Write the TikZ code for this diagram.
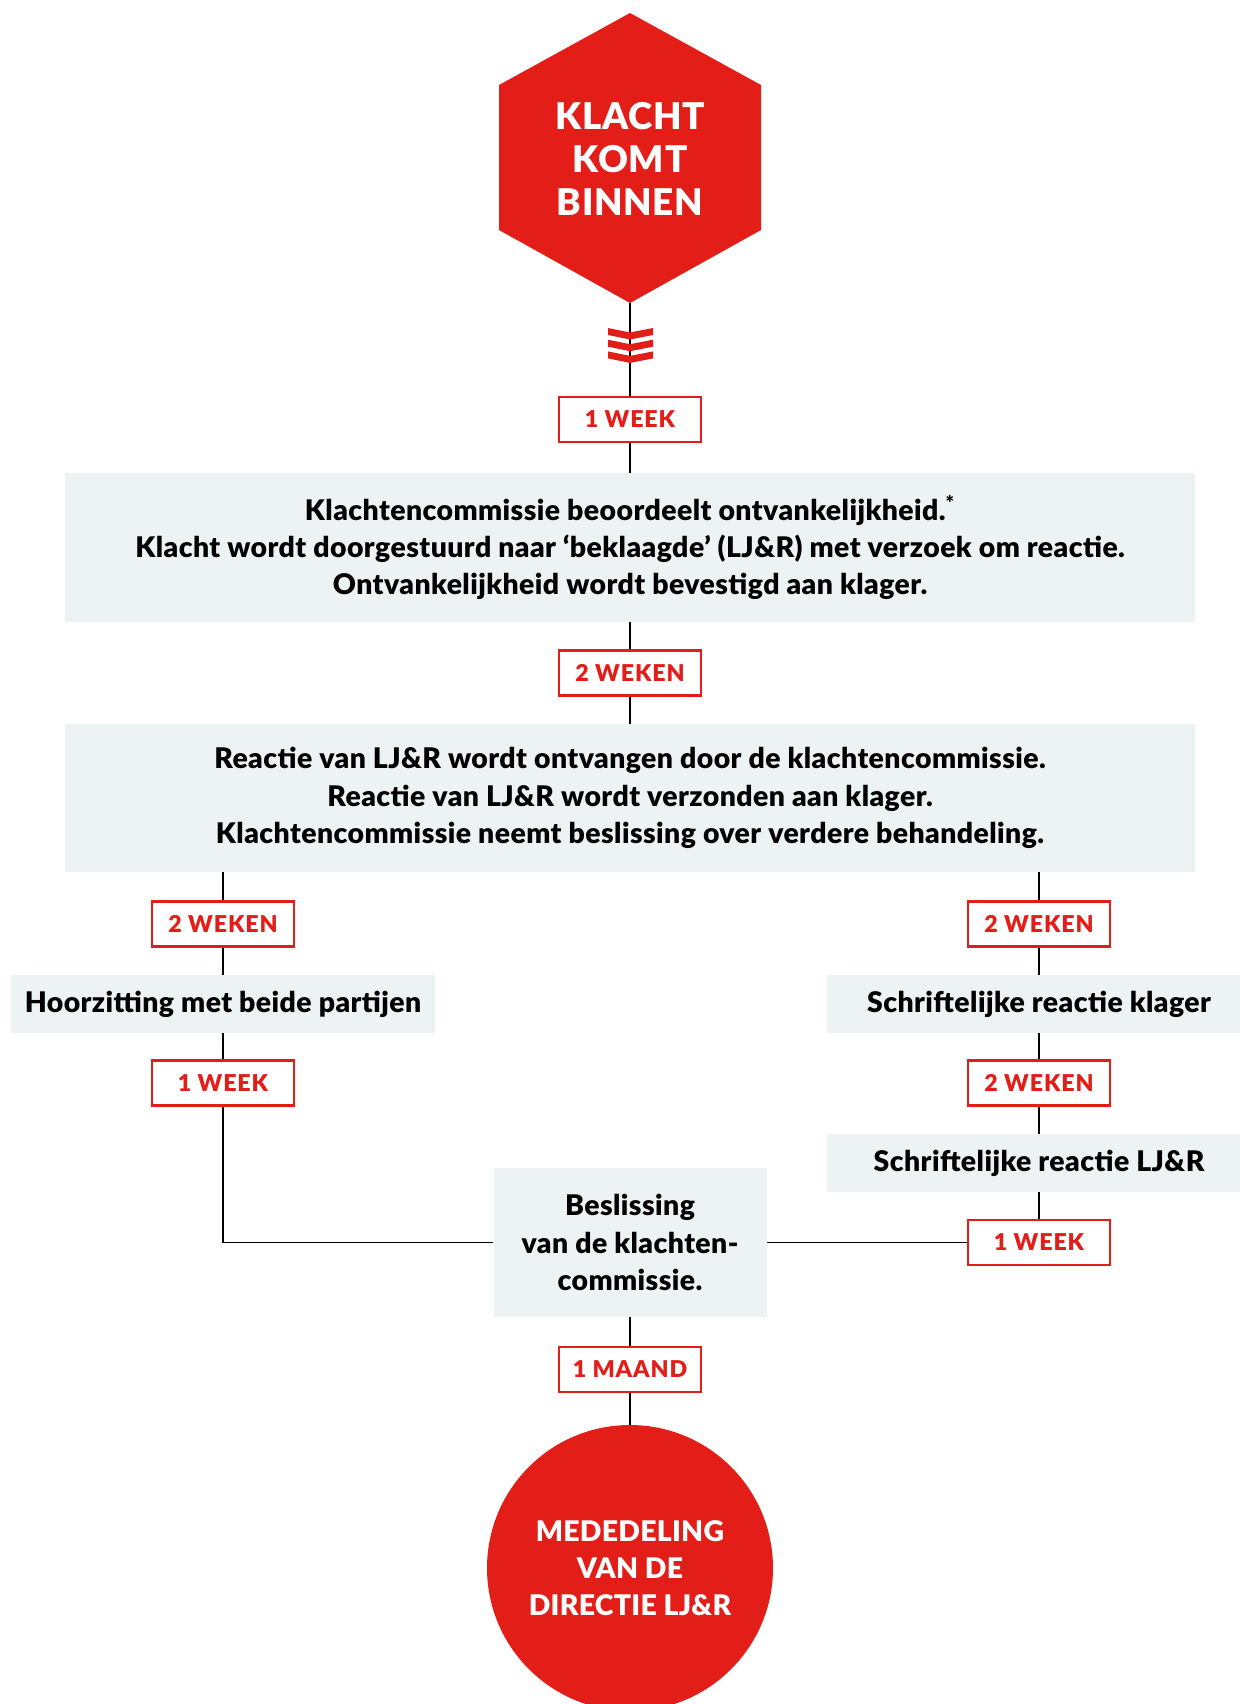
\documentclass[tikz,border=0pt]{standalone}
\usepackage{fontspec}
\setmainfont{Lato}[BoldFont={Lato Black}]
\definecolor{rood}{RGB}{227,30,24}
\definecolor{grijs}{RGB}{236,243,242}
\tikzset{
  termijn/.style={draw=rood,line width=1.3pt,fill=white,text=rood,minimum width=71pt,minimum height=22.5pt,inner sep=0pt,
    font=\bfseries\fontsize{11.6pt}{12pt}\selectfont\addfontfeatures{LetterSpace=4}},
  vak/.style={fill=grijs,align=center,inner sep=0pt,font=\bfseries\fontsize{14.2pt}{18.6pt}\selectfont\addfontfeatures{LetterSpace=1.5}},
  lijn/.style={line width=0.65pt}
}

\begin{document}
\begin{tikzpicture}[x=0.5pt,y=-0.5pt]
\useasboundingbox (0,0) rectangle (1240,1704);
\clip (0,0) rectangle (1240,1704);
\fill[rood] (630,13) -- (761,85) -- (761,230) -- (630,303) -- (499,230) -- (499,85) -- cycle;
\coordinate (hexonder) at (630,303);
\node[text=white,align=center,font=\bfseries\fontsize{18.4pt}{21.5pt}\selectfont\addfontfeatures{LetterSpace=2}] (klacht) at (630,159) {KLACHT\\KOMT\\BINNEN};
\node[termijn] (w1) at (630,419.5) {1 WEEK};
\node[vak,minimum width=565pt,minimum height=74.5pt] (stap1) at (630,547.5)
  {Klachtencommissie beoordeelt ontvankelijkheid.\textsuperscript{*}\\Klacht wordt doorgestuurd naar ‘beklaagde’ (LJ\&R) met verzoek om reactie.\\Ontvankelijkheid wordt bevestigd aan klager.};
\node[termijn] (w2) at (630,673) {2 WEKEN};
\node[vak,minimum width=565pt,minimum height=74pt] (stap2) at (630,798)
  {Reactie van LJ\&R wordt ontvangen door de klachtencommissie.\\Reactie van LJ\&R wordt verzonden aan klager.\\Klachtencommissie neemt beslissing over verdere behandeling.};
\node[termijn] (lw2) at (223,924) {2 WEKEN};
\node[termijn] (rw2) at (1039,924) {2 WEKEN};
\node[vak,minimum width=212pt,minimum height=29pt] (hoor) at (223,1004) {Hoorzitting met beide partijen};
\node[vak,minimum width=212pt,minimum height=29pt] (klager) at (1039,1004) {Schriftelijke reactie klager};
\node[termijn] (lw1) at (223,1083) {1 WEEK};
\node[termijn] (rw3) at (1039,1083) {2 WEKEN};
\node[vak,minimum width=212pt,minimum height=29pt] (ljr) at (1039,1163) {Schriftelijke reactie LJ\&R};
\node[termijn] (rw1) at (1039,1242.5) {1 WEEK};
\node[vak,minimum width=136.5pt,minimum height=74.5pt] (besl) at (630,1242.5) {Beslissing\\van de klachten-\\commissie.};
\node[termijn] (maand) at (630,1369.5) {1 MAAND};
\node[circle,fill=rood,text=white,minimum size=143pt,inner sep=0pt,align=center,font=\bfseries\fontsize{14.2pt}{18.5pt}\selectfont\addfontfeatures{LetterSpace=1}] (mededeling) at (630,1568) {MEDEDELING\\VAN DE\\DIRECTIE LJ\&R};
\draw[lijn] (hexonder) -- (w1) -- (stap1) -- (w2) -- (stap2);
\draw[lijn] (stap2.south -| lw2) -- (lw2) -- (hoor) -- (lw1) |- (besl);
\draw[lijn] (stap2.south -| rw2) -- (rw2) -- (klager) -- (rw3) -- (ljr) -- (rw1) -- (besl);
\draw[lijn] (besl) -- (maand) -- (mededeling);
\foreach \d in {0,11.7,23.4}
  \fill[rood] (608,328+\d) -- (630,332.5+\d) -- (653,328+\d) -- (653,335+\d) -- (630,339.5+\d) -- (608,335+\d) -- cycle;
\end{tikzpicture}
\end{document}
